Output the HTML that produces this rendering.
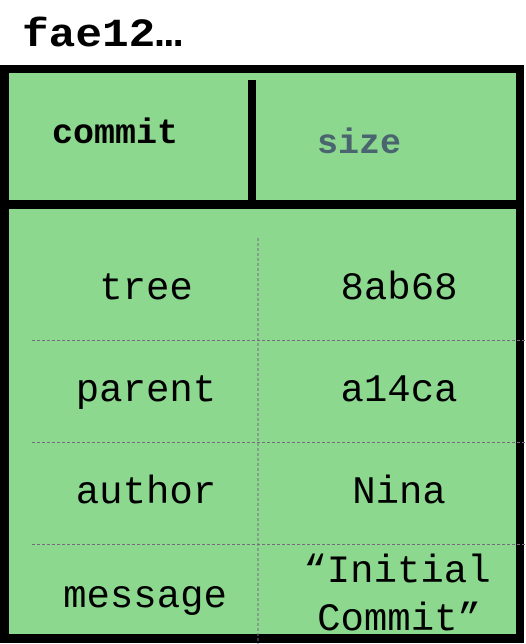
<!DOCTYPE html>
<html><head><meta charset="utf-8"><style>
html,body{margin:0;padding:0;background:#fff;width:526px;height:644px;overflow:hidden}
svg{display:block}
text{font-family:"Liberation Mono",monospace}
</style></head><body>
<svg width="526" height="644" viewBox="0 0 526 644">
<text x="22" y="46" font-size="40" font-weight="bold" fill="#000" textLength="160" lengthAdjust="spacingAndGlyphs">fae12…</text>
<rect x="0" y="65" width="524" height="578" fill="#000"/>
<rect x="9" y="73" width="507" height="127" fill="#8bd88e"/>
<rect x="9" y="209" width="507" height="425" fill="#8bd88e"/>
<rect x="248" y="80" width="8" height="120" fill="#000"/>
<text x="115" y="143" font-size="35" font-weight="bold" text-anchor="middle" fill="#000">commit</text>
<text x="359" y="153" font-size="35" font-weight="bold" text-anchor="middle" fill="#4a6470">size</text>
<g stroke="#7a6a80" stroke-width="1" stroke-dasharray="3,2" fill="none">
<line x1="258" y1="238" x2="258" y2="644"/>
<line x1="32" y1="340.5" x2="526" y2="340.5"/>
<line x1="32" y1="442.5" x2="526" y2="442.5"/>
<line x1="32" y1="544.5" x2="526" y2="544.5"/>
</g>
<g font-size="39" fill="#000" text-anchor="middle">
<text x="146" y="299">tree</text>
<text x="399" y="299">8ab68</text>
<text x="146" y="401">parent</text>
<text x="399" y="401">a14ca</text>
<text x="146" y="503">author</text>
<text x="399" y="503">Nina</text>
<text x="145" y="607">message</text>
<text x="397" y="582">“Initial</text>
<text x="399" y="630">Commit”</text>
</g>
</svg>
</body></html>
